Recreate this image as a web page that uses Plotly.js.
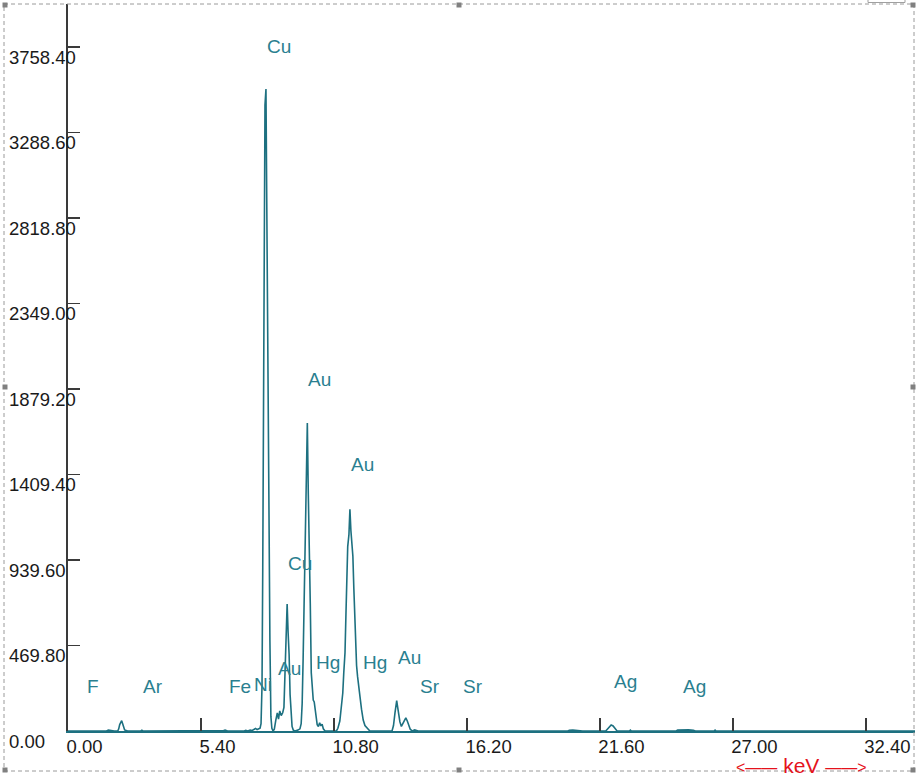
<!DOCTYPE html>
<html>
<head>
<meta charset="utf-8">
<script src="https://cdn.plot.ly/plotly-3.0.1.min.js"></script>
<style>
  html, body { margin: 0; padding: 0; background: #ffffff; }
  #chart { width: 920px; height: 777px; }
</style>
</head>
<body>
<div id="chart"></div>
<script>
// ---- Data ----
const energyKeV = [
  0.00, 1.40, 1.48, 1.56, 1.64, 1.72, 1.80, 1.88, 2.02, 2.06, 2.10, 2.14, 2.18, 2.22, 2.26, 2.30, 2.36, 2.42,
  2.96, 3.00, 3.04, 6.22, 6.26, 6.32, 6.38, 6.44, 6.48, 7.16, 7.22, 7.30, 7.40, 7.48, 7.56, 7.62, 7.68, 7.74,
  7.80, 7.84, 7.88, 7.91, 7.94, 7.97, 8.00, 8.04, 8.08, 8.12, 8.16, 8.20, 8.24, 8.28, 8.33, 8.38, 8.44, 8.50,
  8.55, 8.60, 8.66, 8.72, 8.77, 8.81, 8.85, 8.90, 8.94, 8.98, 9.02, 9.06, 9.10, 9.15, 9.22, 9.34, 9.42, 9.47,
  9.51, 9.55, 9.59, 9.63, 9.67, 9.72, 9.76, 9.80, 9.84, 9.88, 9.92, 9.96, 10.00, 10.04, 10.08, 10.12, 10.17,
  10.22, 10.27, 10.32, 10.37, 10.44, 10.90, 10.96, 11.04, 11.10, 11.16, 11.20, 11.25, 11.29, 11.33, 11.36,
  11.41, 11.45, 11.49, 11.53, 11.57, 11.61, 11.64, 11.68, 11.72, 11.76, 11.80, 11.86, 11.92, 11.99, 12.06,
  12.18, 12.26, 13.16, 13.22, 13.28, 13.32, 13.35, 13.39, 13.43, 13.48, 13.54, 13.60, 13.66, 13.72, 13.78,
  13.84, 13.90, 13.98, 14.08, 14.16, 14.22, 20.30, 20.36, 20.50, 20.66, 20.80, 20.90, 21.84, 21.90, 21.98,
  22.06, 22.14, 22.22, 22.30, 22.80, 22.84, 22.88, 24.70, 24.76, 24.90, 25.06, 25.20, 25.40, 25.48, 26.24,
  26.28, 26.32, 34.40
];
const counts = [
  0, 0, 4, 0, 5, 3, 5, 0, 0, 12, 35, 52, 57, 40, 18, 6, 3, 0,
  0, 4, 0, 0, 4, 3, 5, 4, 0, 0, 4, 0, 5, 3, 10, 14, 8, 12,
  15, 40, 250, 900, 1800, 2600, 3440, 3528, 2700, 1950, 1200, 500, 80, 15, 0, 10, 60, 100,
  65, 110, 85, 100, 130, 300, 540, 698, 540, 420, 200, 70, 25, 5, 0, 5, 12, 40,
  150, 400, 680, 1000, 1290, 1692, 1300, 1050, 700, 320, 200, 170, 160, 120, 60, 35, 25,
  45, 28, 38, 12, 0, 0, 15, 55, 120, 209, 320, 430, 648, 880, 1013,
  1080, 1218, 1100, 1040, 960, 780, 648, 500, 360, 300, 240, 187, 120, 60, 30,
  15, 0, 0, 30, 100, 140, 167, 130, 95, 50, 25, 40, 60, 72, 55,
  25, 10, 0, 6, 3, 0, 0, 4, 5, 3, 5, 0, 0, 10, 25,
  33, 28, 12, 0, 0, 5, 0, 0, 5, 6, 4, 6, 4, 0, 0,
  5, 0, 0
];

const xTickVals = [0, 5.4, 10.8, 16.2, 21.6, 27.0, 32.4];
const xTickText = ['0.00', '5.40', '10.80', '16.20', '21.60', '27.00', '32.40'];
const yTickVals = [0, 469.8, 939.6, 1409.4, 1879.2, 2349.0, 2818.8, 3288.6, 3758.4];
const yTickText = ['0.00', '469.80', '939.60', '1409.40', '1879.20', '2349.00', '2818.80', '3288.60', '3758.40'];

const elemNames  = ['F', 'Ar', 'Fe', 'Ni', 'Cu', 'Au', 'Cu', 'Au', 'Hg', 'Au', 'Hg', 'Au', 'Sr', 'Sr', 'Ag', 'Ag'];
const elemEnergy = [0.69, 2.95, 6.45, 7.49, 8.00, 8.46, 8.86, 9.67, 9.98, 11.41, 11.88, 13.34, 14.23, 15.95, 22.08, 24.91];
const elemLabelY = [247, 247, 247, 253, 3759, 345, 923, 1929, 374, 1462, 374, 405, 247, 247, 271, 247];

const axisTitleLeft = '<——';
const axisTitleUnit = 'keV';
const axisTitleRight = '——>';

// ---- Geometry helpers (pixel -> paper) ----
const L = 68, R = 5, T = 4, B = 46, W = 920, H = 777;
const PW = W - L - R, PH = H - T - B;
const px = p => (p - L) / PW;
const py = p => (H - B - p) / PH;

const teal = '#1d7080';
const labelTeal = '#2a7f90';
const dark = '#3a3a3a';
const fam = 'Liberation Sans, Arial, sans-serif';

const esc = s => s.replace(/</g, '&lt;').replace(/>/g, '&gt;');

const annotations = elemNames.map((n, i) => ({
  x: elemEnergy[i], y: elemLabelY[i], xref: 'x', yref: 'y',
  text: n, showarrow: false, xanchor: 'left', yanchor: 'middle',
  font: {family: fam, size: 19, color: labelTeal}
}));
// y tick labels: left-aligned at the left edge, just below each tick
yTickVals.forEach((v, i) => {
  annotations.push({
    x: px(7), y: v, xref: 'paper', yref: 'y', yshift: -10,
    text: yTickText[i], showarrow: false, xanchor: 'left', yanchor: 'middle',
    font: {family: fam, size: 18.5, color: '#1a1a1a'}
  });
});
annotations.push({
  x: px(801), y: py(766), xref: 'paper', yref: 'paper',
  text: '<span style="font-size:16px">' + esc(axisTitleLeft) + '</span> ' + axisTitleUnit +
        ' <span style="font-size:16px">' + esc(axisTitleRight) + '</span>',
  showarrow: false, xanchor: 'center', yanchor: 'middle',
  font: {family: fam, size: 21, color: '#e5121c'}
});

const shapes = [];
// dashed selection frame
shapes.push({type: 'rect', xref: 'paper', yref: 'paper',
  x0: px(4), x1: px(914), y0: py(771), y1: py(4),
  line: {color: '#9a9a9a', width: 1, dash: '4px,3px'}, fillcolor: 'rgba(0,0,0,0)'});
// little tab top-right
shapes.push({type: 'rect', xref: 'paper', yref: 'paper',
  x0: px(868), x1: px(905), y0: py(2.5), y1: py(-4),
  line: {color: '#a0a0a0', width: 1}, fillcolor: 'rgba(0,0,0,0)'});
// handles
const handles = [[5,5],[459,5],[913,5],[5,387],[913,387],[5,770],[459,770],[913,770]];
handles.forEach(([hx, hy]) => {
  shapes.push({type: 'rect', xref: 'paper', yref: 'paper',
    x0: px(hx - 2.5), x1: px(hx + 2.5), y0: py(hy + 2.5), y1: py(hy - 2.5),
    line: {width: 0}, fillcolor: '#808080'});
});

const trace = {
  x: energyKeV, y: counts, type: 'scatter', mode: 'lines',
  line: {color: teal, width: 1.6, shape: 'linear'},
  hoverinfo: 'skip', cliponaxis: false
};

const layout = {
  width: W, height: H,
  margin: {l: L, r: R, t: T, b: B, pad: 0},
  paper_bgcolor: '#ffffff', plot_bgcolor: '#ffffff',
  showlegend: false,
  font: {family: fam, color: '#1a1a1a'},
  xaxis: {
    range: [0, 34.40], showgrid: false, zeroline: false, automargin: false,
    showline: true, linecolor: teal, linewidth: 1.5,
    ticks: 'inside', ticklen: 13, tickwidth: 1.5, tickcolor: dark,
    tickvals: xTickVals, ticktext: xTickText,
    ticklabelposition: 'outside right', ticklabelstandoff: -2, ticklabelshift: -3,
    tickfont: {family: fam, size: 18.5, color: '#1a1a1a'}
  },
  yaxis: {
    range: [0, 3995], showgrid: false, zeroline: false, automargin: false,
    showline: true, linecolor: dark, linewidth: 2,
    ticks: 'inside', ticklen: 12, tickwidth: 1.5, tickcolor: dark,
    tickvals: yTickVals, showticklabels: false
  },
  annotations: annotations,
  shapes: shapes
};

Plotly.newPlot('chart', [trace], layout, {staticPlot: true, displayModeBar: false});
</script>
</body>
</html>
